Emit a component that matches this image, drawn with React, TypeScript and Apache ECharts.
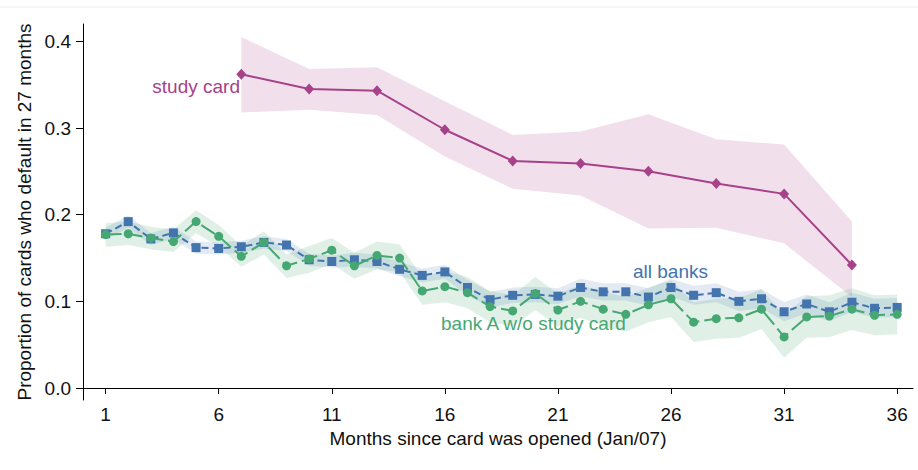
import React, { useEffect, useRef } from "react";
import * as echarts from "echarts";

const months = [1,2,3,4,5,6,7,8,9,10,11,12,13,14,15,16,17,18,19,20,21,22,23,24,25,26,27,28,29,30,31,32,33,34,35,36];

const allBanks = [0.178,0.192,0.172,0.179,0.162,0.161,0.163,0.168,0.165,0.148,0.146,0.148,0.146,0.137,0.130,0.134,0.116,0.102,0.107,0.108,0.106,0.116,0.111,0.111,0.105,0.116,0.107,0.110,0.100,0.103,0.088,0.097,0.088,0.099,0.092,0.093];
const allBanksLo = [0.171,0.185,0.165,0.172,0.155,0.154,0.156,0.161,0.158,0.141,0.139,0.140,0.138,0.129,0.122,0.126,0.107,0.093,0.098,0.099,0.097,0.106,0.101,0.101,0.095,0.106,0.096,0.099,0.089,0.092,0.077,0.086,0.077,0.088,0.081,0.082];
const allBanksHi = [0.185,0.199,0.179,0.186,0.169,0.168,0.170,0.175,0.172,0.155,0.153,0.156,0.154,0.145,0.138,0.142,0.125,0.111,0.116,0.117,0.115,0.126,0.121,0.121,0.115,0.126,0.118,0.121,0.111,0.114,0.099,0.108,0.099,0.110,0.103,0.104];

const bankA = [0.177,0.178,0.173,0.169,0.192,0.175,0.152,0.168,0.141,0.149,0.159,0.141,0.153,0.150,0.112,0.117,0.110,0.094,0.089,0.109,0.090,0.100,0.091,0.085,0.096,0.103,0.076,0.080,0.081,0.091,0.059,0.082,0.083,0.091,0.084,0.085];
const bankALo = [0.163,0.165,0.160,0.157,0.179,0.163,0.140,0.154,0.127,0.133,0.143,0.126,0.137,0.134,0.096,0.099,0.092,0.076,0.071,0.090,0.071,0.081,0.071,0.065,0.076,0.082,0.053,0.057,0.058,0.068,0.035,0.058,0.059,0.067,0.061,0.062];
const bankAHi = [0.190,0.192,0.186,0.183,0.205,0.188,0.164,0.181,0.154,0.164,0.173,0.156,0.169,0.166,0.128,0.135,0.128,0.112,0.107,0.128,0.109,0.119,0.111,0.105,0.116,0.124,0.099,0.103,0.104,0.114,0.083,0.106,0.107,0.115,0.107,0.108];

const studyMonths = [7,10,13,16,19,22,25,28,31,34];
const studyCard = [0.362,0.345,0.343,0.298,0.262,0.259,0.250,0.236,0.224,0.142];
const studyLo = [0.318,0.321,0.315,0.267,0.230,0.222,0.184,0.185,0.167,0.105];
const studyHi = [0.405,0.368,0.370,0.331,0.292,0.296,0.316,0.287,0.281,0.192];

const xTicks = [1,6,11,16,21,26,31,36];
const yTicks = [0,0.1,0.2,0.3,0.4];

const PINK = "#a6418a";
const BLUE = "#4374ad";
const GREEN = "#45a872";
const FONT = "Liberation Sans, Arial, sans-serif";

function band(name: string, xs: number[], lo: number[], hi: number[], color: string, z: number) {
  return {
    name: name + "-band",
    type: "custom",
    silent: true,
    z,
    data: xs.map((m, i) => [m, lo[i], hi[i]]),
    encode: { x: 0, y: [1, 2] },
    renderItem: (params: any, api: any) => {
      if (params.dataIndex !== 0) return null;
      const pts: number[][] = [];
      for (let i = 0; i < xs.length; i++) pts.push(api.coord([xs[i], hi[i]]));
      for (let i = xs.length - 1; i >= 0; i--) pts.push(api.coord([xs[i], lo[i]]));
      return { type: "polygon", shape: { points: pts }, style: { fill: color } };
    },
  };
}

export default function App() {
  const ref = useRef<HTMLDivElement>(null);
  useEffect(() => {
    if (!ref.current) return;
    const chart = echarts.init(ref.current, undefined, { renderer: "svg" });
    const option = {
      animation: false,
      backgroundColor: "#ffffff",
      grid: { left: 83, right: 5, top: 24, bottom: 70 },
      xAxis: {
        type: "value",
        min: 0,
        max: 36.7,
        axisLine: { lineStyle: { color: "#000", width: 1 } },
        axisTick: { show: true, customValues: xTicks, length: 6, lineStyle: { color: "#000" } },
        axisLabel: {
          customValues: xTicks,
          fontSize: 19,
          color: "#111",
          margin: 5,
          fontFamily: FONT,
        },
        splitLine: { show: false },
        name: "Months since card was opened (Jan/07)",
        nameLocation: "middle",
        nameGap: 29,
        nameTextStyle: { fontSize: 19, color: "#111", fontFamily: FONT },
      },
      yAxis: {
        type: "value",
        min: -0.0138,
        max: 0.42,
        axisLine: { show: true, lineStyle: { color: "#000", width: 1 } },
        axisTick: { show: true, customValues: yTicks, length: 7, lineStyle: { color: "#000" } },
        axisLabel: {
          customValues: yTicks,
          formatter: (v: number) => v.toFixed(1),
          fontSize: 19,
          color: "#111",
          margin: 12,
          fontFamily: FONT,
        },
        splitLine: { show: false },
        name: "Proportion of cards who default in 27 months",
        nameLocation: "middle",
        nameGap: 48,
        nameTextStyle: { fontSize: 19, color: "#111", fontFamily: FONT },
      },
      graphic: [
        { type: "line", shape: { x1: 0, y1: 7, x2: 918, y2: 7 }, style: { stroke: "#ececec", lineWidth: 1 } },
        {
          type: "text",
          x: 240,
          y: 86,
          style: { text: "study card", fill: PINK, fontSize: 19, fontFamily: FONT, align: "right", verticalAlign: "middle" },
        },
        {
          type: "text",
          x: 633,
          y: 271,
          style: { text: "all banks", fill: BLUE, fontSize: 19, fontFamily: FONT, align: "left", verticalAlign: "middle" },
        },
        {
          type: "text",
          x: 441,
          y: 323,
          style: { text: "bank A w/o study card", fill: GREEN, fontSize: 19, fontFamily: FONT, align: "left", verticalAlign: "middle" },
        },
      ],
      series: [
        band("study", studyMonths, studyLo, studyHi, "rgba(166,65,138,0.16)", 1),
        band("green", months, bankALo, bankAHi, "rgba(69,168,114,0.17)", 1),
        band("blue", months, allBanksLo, allBanksHi, "rgba(67,116,173,0.15)", 1),
        {
          name: "all banks",
          type: "line",
          data: months.map((m, i) => [m, allBanks[i]]),
          symbol: "rect",
          symbolSize: 9,
          itemStyle: { color: BLUE },
          lineStyle: { color: BLUE, width: 2, type: [7, 4] },
          z: 3,
        },
        {
          name: "bank A w/o study card",
          type: "line",
          data: months.map((m, i) => [m, bankA[i]]),
          symbol: "circle",
          symbolSize: 9,
          itemStyle: { color: GREEN },
          lineStyle: { color: GREEN, width: 2, type: [16, 5] },
          z: 4,
        },
        {
          name: "study card",
          type: "line",
          data: studyMonths.map((m, i) => [m, studyCard[i]]),
          symbol: "diamond",
          symbolSize: [10, 11],
          itemStyle: { color: PINK },
          lineStyle: { color: PINK, width: 2 },
          z: 5,
        },
      ],
    };
    chart.setOption(option as any);
    return () => chart.dispose();
  }, []);
  return (
    <div
      ref={ref}
      style={{ position: "fixed", left: 0, top: 0, width: 918, height: 470, background: "#fff" }}
    />
  );
}
